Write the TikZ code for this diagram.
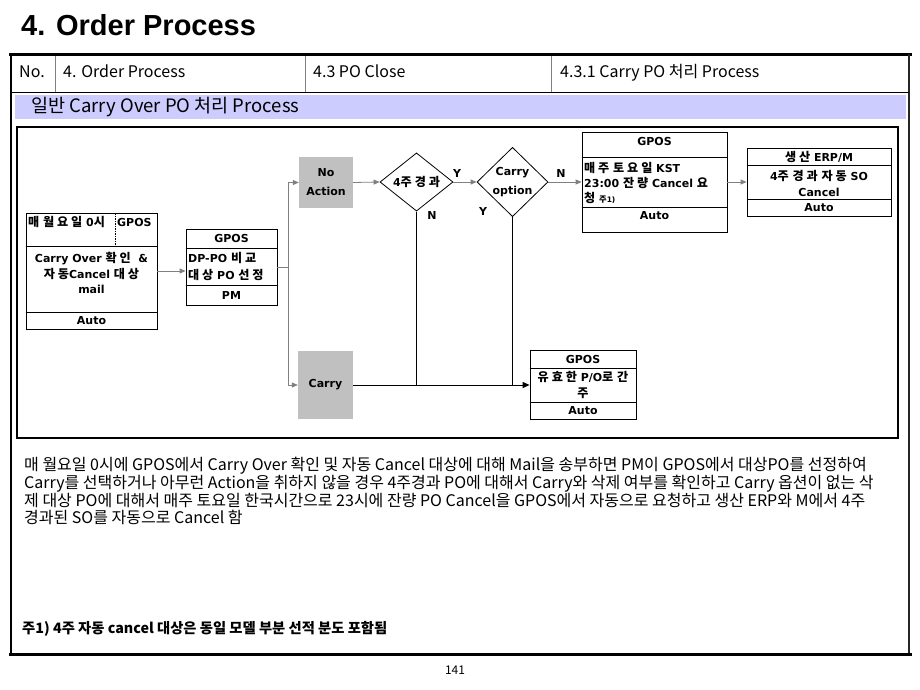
\documentclass[tikz,border=0pt]{standalone}
\usepackage{fontspec}
\usetikzlibrary{shapes.geometric,arrows.meta}
\setmainfont{Liberation Sans}
\newfontfamily\titlefnt{Liberation Sans}
\newfontfamily\krfam{Noto Sans CJK KR}
\newfontfamily\krbox{Noto Sans CJK KR}[LetterSpace=24,Scale=1.1]
\newfontfamily\dejafam{DejaVu Sans}
% automatic switching between a Korean and a Latin font
\XeTeXinterchartokenstate=1
\chardef\KrCls=10
\newcount\krc
\krc="AC00
\loop
  \XeTeXcharclass\krc=\KrCls
  \ifnum\krc<"D7A3 \advance\krc by 1
\repeat
\def\curkr{}\def\curlat{}
\XeTeXinterchartoks 0 \KrCls = {\curkr}
\XeTeXinterchartoks 4095 \KrCls = {\curkr}
\XeTeXinterchartoks \KrCls 0 = {\curlat}
\XeTeXinterchartoks \KrCls 4095 = {\curlat}
\newcommand\bxfnt{\fontsize{11}{15.5}\selectfont\def\curkr{\krbox\bfseries}\def\curlat{\dejafam\bfseries}\dejafam\bfseries}
\definecolor{bandc}{HTML}{CCCCFF}
\definecolor{gfill}{HTML}{C0C0C0}
\definecolor{garr}{HTML}{808080}
\begin{document}
\begin{tikzpicture}[x=1pt,y=-1pt,
  bx/.style={draw, rectangle, line width=0.8pt, inner sep=0pt},
  rowline/.style={line width=0.8pt},
  lbl/.style={font=\bxfnt, inner sep=0pt},
  gbox/.style={fill=gfill, rectangle, inner sep=0pt, font=\bxfnt, align=center},
  dia/.style={diamond, draw, line width=0.8pt, inner sep=0pt, font=\bxfnt, align=center},
  garrow/.style={draw=garr, line width=0.8pt, -{Triangle[length=6pt,width=5pt]}},
  gline/.style={draw=garr, line width=0.8pt},
  barrow/.style={draw=black, line width=1pt, -{Triangle[length=7pt,width=6pt]}},
  bline/.style={draw=black, line width=1pt},
  hdr/.style={font=\krfam\fontsize{16}{18}\selectfont, inner sep=0pt, anchor=base west},
]
\useasboundingbox (0,0) rectangle (920,690);
\fill[white] (0,0) rectangle (920,690);

% title
\node[font=\titlefnt\bfseries\fontsize{29}{32}\selectfont, inner sep=0pt, anchor=base west] (title) at (21,36) {4. Order Process};

% frame
\fill[bandc] (15,95) rectangle (906,119);
\draw[line width=2.5pt] (9,54.5) -- (912,54.5);
\draw[line width=2.5pt] (11,54) -- (11,655);
\draw[line width=2.5pt, black!85] (909,54) -- (909,655);
\draw[line width=3pt] (9,654) -- (912,654);
\draw[line width=0.8pt] (11,92) -- (909,92);
\draw[line width=0.8pt, gray] (55,56) -- (55,92);
\draw[line width=0.8pt, gray] (305,56) -- (305,92);
\draw[line width=0.8pt, gray] (551,56) -- (551,92);
\draw[line width=2pt] (17,127) rectangle (898,438);

% header texts
\node[hdr] (h0) at (19,78) {No.};
\node[hdr] (h1) at (63,78) {4. Order Process};
\node[hdr] (h2) at (313,78) {4.3 PO Close};
\node[hdr] (h3) at (560,78) {4.3.1 Carry PO 처리 Process};
\node[hdr, font=\krfam\fontsize{18.5}{20}\selectfont] (band) at (31,113) {일반 Carry Over PO 처리 Process};

% box 1
\node[bx, minimum width=131pt, minimum height=116pt] (b1) at (91.5,271) {};
\draw[rowline] (b1.west |- 0,246) -- (b1.east |- 0,246);
\draw[rowline] (b1.west |- 0,312) -- (b1.east |- 0,312);
\draw[line width=0.6pt, dash pattern=on 1.5pt off 1pt] (115,213) -- (115,246);
\node[lbl, anchor=west] (b1a) at (28,222) {매 월요일 0시};
\node[lbl, anchor=west] (b1b) at (117,222) {GPOS};
\node[lbl, align=center] (b1c) at (91.5,273) {Carry Over 확인\ \ \&\\자동Cancel 대상\\mail};
\node[lbl] (b1d) at (91.5,320.5) {Auto};

% box 2
\node[bx, minimum width=91pt, minimum height=76pt] (b2) at (231.5,267) {};
\draw[rowline] (b2.west |- 0,248) -- (b2.east |- 0,248);
\draw[rowline] (b2.west |- 0,285) -- (b2.east |- 0,285);
\node[lbl] (b2a) at (231.5,238.5) {GPOS};
\node[lbl, align=left, anchor=west, font=\bxfnt\fontsize{11}{17}\selectfont] (b2b) at (188,266.5) {DP-PO 비교\\대상 PO 선정};
\node[lbl] (b2c) at (231.5,295) {PM};

% grey boxes
\node[gbox, minimum width=54pt, minimum height=51pt, font=\bxfnt\fontsize{11}{19}\selectfont] (na) at (326,182.5) {No\\Action};
\node[gbox, minimum width=55pt, minimum height=68pt] (ca) at (325.5,385) {Carry};

% diamonds
\node[dia, minimum width=73pt, minimum height=54pt] (d1) at (416.5,182) {4주경과};
\node[dia, minimum width=71pt, minimum height=54pt, font=\bxfnt\fontsize{11}{19}\selectfont] (d2) at (512.5,182) {Carry\\option};

% box 3
\node[bx, minimum width=145pt, minimum height=100pt] (b3) at (654.5,182) {};
\draw[rowline] (b3.west |- 0,157) -- (b3.east |- 0,157);
\draw[rowline] (b3.west |- 0,207) -- (b3.east |- 0,207);
\node[lbl] (b3a) at (654.5,141) {GPOS};
\node[lbl, align=left, anchor=west, font=\bxfnt\fontsize{11}{15}\selectfont] (b3b) at (584,183) {매주 토요일 KST\\23:00 잔량 Cancel 요\\청 {\fontsize{7.5}{8}\selectfont 주1)}};
\node[lbl] (b3c) at (654.5,216) {Auto};

% box 5
\node[bx, minimum width=144pt, minimum height=68pt] (b5) at (819,182) {};
\draw[rowline] (b5.west |- 0,165) -- (b5.east |- 0,165);
\draw[rowline] (b5.west |- 0,199) -- (b5.east |- 0,199);
\node[lbl] (b5a) at (819,156.5) {생산 ERP/M};
\node[lbl, align=center, font=\bxfnt\fontsize{11}{16}\selectfont] (b5b) at (819,183) {4주 경과 자동 SO\\Cancel};
\node[lbl] (b5c) at (819,207.5) {Auto};

% box 4
\node[bx, minimum width=106pt, minimum height=69pt] (b4) at (583,384.5) {};
\draw[rowline] (b4.west |- 0,368) -- (b4.east |- 0,368);
\draw[rowline] (b4.west |- 0,402) -- (b4.east |- 0,402);
\node[lbl] (b4a) at (583,359) {GPOS};
\node[lbl, align=center, font=\bxfnt\fontsize{11}{16}\selectfont] (b4b) at (583,385) {유효한 P/O로 간\\주};
\node[lbl] (b4c) at (583,411) {Auto};

% labels
\node[lbl] (ly1) at (457,173) {Y};
\node[lbl] (ln1) at (561,173) {N};
\node[lbl] (ln2) at (432,215) {N};
\node[lbl] (ly2) at (483,211) {Y};

% connectors
\coordinate (j) at (288,267);
\draw[garrow] (b1.east) -- (b1.east -| b2.west);
\draw[gline] (b2.east |- j) -- (j);
\draw[gline] (j |- na.west) -- (j |- ca.west);
\draw[garrow] (j |- na.west) -- (na.west);
\draw[garrow] (j |- ca.west) -- (ca.west);
\draw[garrow] (na.east) -- (d1.west);
\draw[garrow] (d1.east) -- (d2.west);
\draw[garrow] (d2.east) -- (d2.east -| b3.west);
\draw[garrow] (b3.east) -- (b3.east -| b5.west);
\draw[bline] (d1.south) -- (d1.south |- ca.east);
\draw[bline] (d2.south) -- (d2.south |- ca.east);
\draw[barrow] (ca.east) -- (ca.east -| b4.west);

% description
\node[font=\krfam\fontsize{16}{17}\selectfont, inner sep=0pt, anchor=north west, align=left] (desc) at (24,457) {매 월요일 0시에 GPOS에서 Carry Over 확인 및 자동 Cancel 대상에 대해 Mail을 송부하면 PM이 GPOS에서 대상PO를 선정하여\\Carry를 선택하거나 아무런 Action을 취하지 않을 경우 4주경과 PO에 대해서 Carry와 삭제 여부를 확인하고 Carry 옵션이 없는 삭\\제 대상 PO에 대해서 매주 토요일 한국시간으로 23시에 잔량 PO Cancel을 GPOS에서 자동으로 요청하고 생산 ERP와 M에서 4주\\경과된 SO를 자동으로 Cancel 함};
\node[font=\krfam\bfseries\fontsize{14.3}{16}\selectfont, inner sep=0pt, anchor=base west] (note) at (22,633) {주1) 4주 자동 cancel 대상은 동일 모델 부분 선적 분도 포함됨};
\node[font=\krfam\fontsize{12}{13}\selectfont, inner sep=0pt] (pg) at (455,670) {141};
\end{tikzpicture}
\end{document}
